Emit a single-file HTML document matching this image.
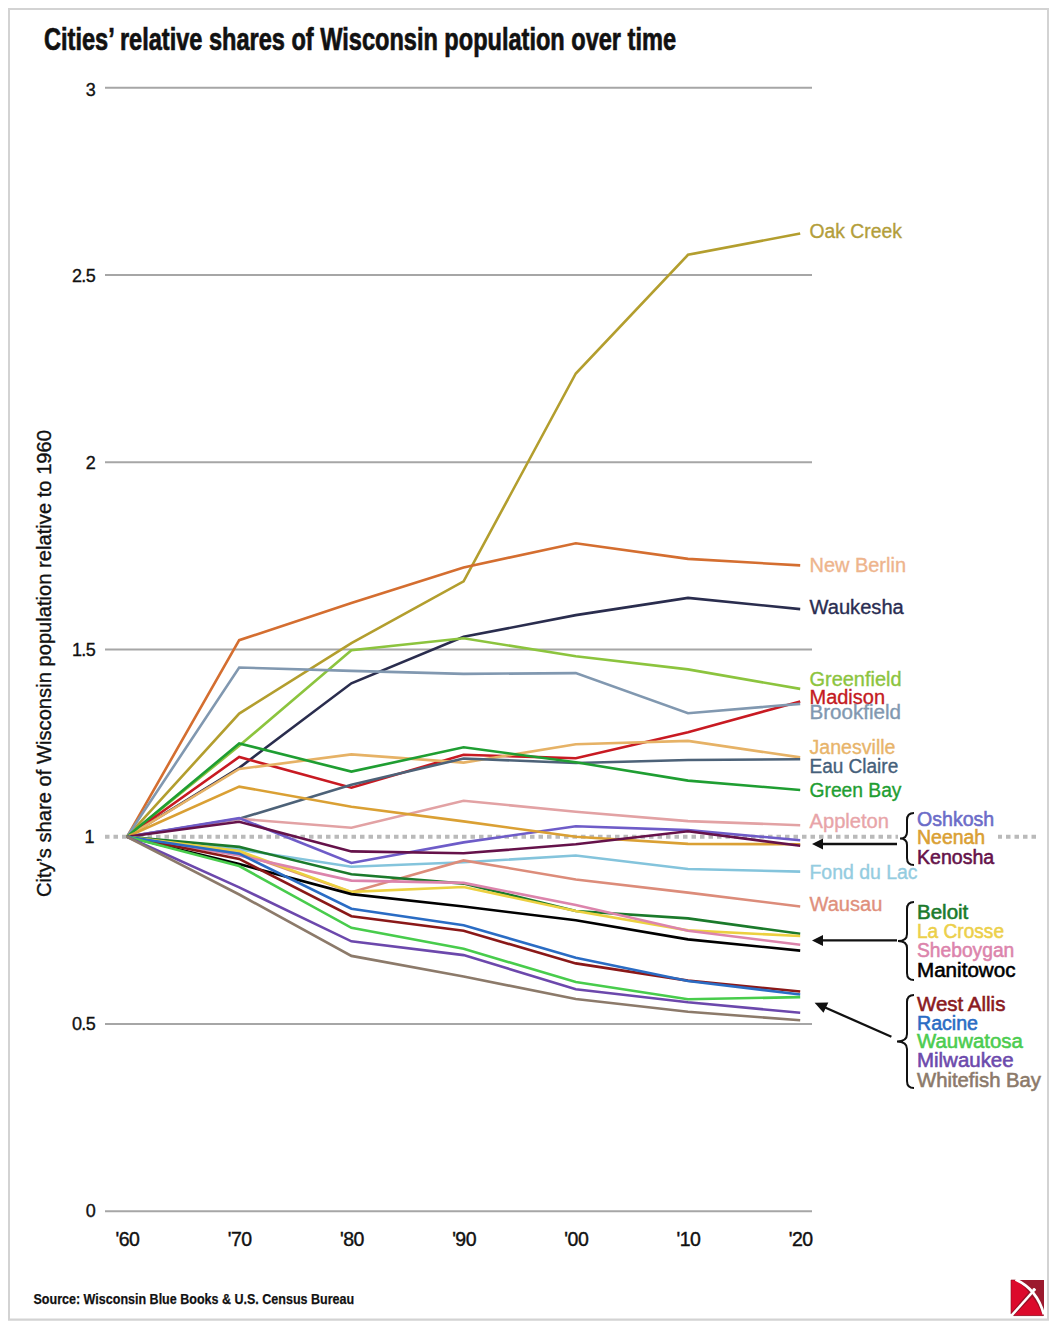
<!DOCTYPE html>
<html><head><meta charset="utf-8">
<style>
html,body{margin:0;padding:0;background:#fff;}
body{width:1056px;height:1328px;position:relative;overflow:hidden;}
svg{position:absolute;left:0;top:0;}
</style></head><body>
<svg width="1056" height="1328" viewBox="0 0 1056 1328" font-family="Liberation Sans, sans-serif">
<rect x="0" y="0" width="1056" height="1328" fill="#fff"/>
<rect x="9" y="9" width="1039" height="1310.5" fill="none" stroke="#d3d3d3" stroke-width="2"/>
<line x1="8" y1="1320" x2="1049" y2="1320" stroke="#d3d3d3" stroke-width="1"/>
<text x="44" y="49.5" font-family="Liberation Sans" font-weight="bold" font-size="30.5" fill="#111" stroke="#111" stroke-width="0.7" textLength="632" lengthAdjust="spacingAndGlyphs">Cities’ relative shares of Wisconsin population over time</text>
<line x1="105" y1="87.8" x2="812" y2="87.8" stroke="#a6a6a6" stroke-width="2"/>
<text x="95.2" y="95.6" font-size="18" fill="#111" stroke="#111" stroke-width="0.35" text-anchor="end" letter-spacing="-0.6">3</text>
<line x1="105" y1="275.0" x2="812" y2="275.0" stroke="#a6a6a6" stroke-width="2"/>
<text x="95.2" y="282.4" font-size="18" fill="#111" stroke="#111" stroke-width="0.35" text-anchor="end" letter-spacing="-0.6">2.5</text>
<line x1="105" y1="462.3" x2="812" y2="462.3" stroke="#a6a6a6" stroke-width="2"/>
<text x="95.2" y="469.3" font-size="18" fill="#111" stroke="#111" stroke-width="0.35" text-anchor="end" letter-spacing="-0.6">2</text>
<line x1="105" y1="649.5" x2="812" y2="649.5" stroke="#a6a6a6" stroke-width="2"/>
<text x="95.2" y="656.1" font-size="18" fill="#111" stroke="#111" stroke-width="0.35" text-anchor="end" letter-spacing="-0.6">1.5</text>
<line x1="105" y1="1024.0" x2="812" y2="1024.0" stroke="#a6a6a6" stroke-width="2"/>
<text x="95.2" y="1029.8" font-size="18" fill="#111" stroke="#111" stroke-width="0.35" text-anchor="end" letter-spacing="-0.6">0.5</text>
<line x1="105" y1="1211.3" x2="812" y2="1211.3" stroke="#a6a6a6" stroke-width="2"/>
<text x="95.2" y="1216.6" font-size="18" fill="#111" stroke="#111" stroke-width="0.35" text-anchor="end" letter-spacing="-0.6">0</text>
<text x="94.6" y="842.9" font-size="18" fill="#111" stroke="#111" stroke-width="0.35" text-anchor="end">1</text>
<line x1="105" y1="836.8" x2="1040" y2="836.8" stroke="#bababa" stroke-width="4" stroke-dasharray="4.5 4"/>
<text x="127.5" y="1245.8" font-size="19.5" fill="#111" stroke="#111" stroke-width="0.4" text-anchor="middle" letter-spacing="-0.5">'60</text>
<text x="239.7" y="1245.8" font-size="19.5" fill="#111" stroke="#111" stroke-width="0.4" text-anchor="middle" letter-spacing="-0.5">'70</text>
<text x="351.9" y="1245.8" font-size="19.5" fill="#111" stroke="#111" stroke-width="0.4" text-anchor="middle" letter-spacing="-0.5">'80</text>
<text x="464.1" y="1245.8" font-size="19.5" fill="#111" stroke="#111" stroke-width="0.4" text-anchor="middle" letter-spacing="-0.5">'90</text>
<text x="576.3" y="1245.8" font-size="19.5" fill="#111" stroke="#111" stroke-width="0.4" text-anchor="middle" letter-spacing="-0.5">'00</text>
<text x="688.5" y="1245.8" font-size="19.5" fill="#111" stroke="#111" stroke-width="0.4" text-anchor="middle" letter-spacing="-0.5">'10</text>
<text x="800.7" y="1245.8" font-size="19.5" fill="#111" stroke="#111" stroke-width="0.4" text-anchor="middle" letter-spacing="-0.5">'20</text>
<text transform="translate(51.2,897) rotate(-90)" x="0" y="0" font-size="20" fill="#111" stroke="#111" stroke-width="0.35" textLength="467" lengthAdjust="spacingAndGlyphs">City’s share of Wisconsin population relative to 1960</text>
<text x="33.5" y="1303.5" font-weight="bold" font-size="15.5" fill="#111" stroke="#111" stroke-width="0.25" textLength="320.7" lengthAdjust="spacingAndGlyphs">Source: Wisconsin Blue Books &amp; U.S. Census Bureau</text>
<rect x="898" y="808" width="100" height="62" fill="#fff"/>
<polyline points="127.0,836.8 239.2,713.6 351.4,643.2 463.6,581.4 575.8,373.5 688.0,254.8 800.2,233.5" fill="none" stroke="#b39e2e" stroke-width="2.6" stroke-linejoin="miter" stroke-linecap="butt"/>
<polyline points="127.0,836.8 239.2,640.2 351.4,603.1 463.6,567.5 575.8,543.2 688.0,558.9 800.2,565.4" fill="none" stroke="#d46e30" stroke-width="2.6" stroke-linejoin="miter" stroke-linecap="butt"/>
<polyline points="127.0,836.8 239.2,767.9 351.4,683.3 463.6,636.8 575.8,615.1 688.0,597.9 800.2,609.1" fill="none" stroke="#2a2d4e" stroke-width="2.6" stroke-linejoin="miter" stroke-linecap="butt"/>
<polyline points="127.0,836.8 239.2,745.8 351.4,650.3 463.6,638.3 575.8,656.3 688.0,669.4 800.2,688.9" fill="none" stroke="#8cc43e" stroke-width="2.6" stroke-linejoin="miter" stroke-linecap="butt"/>
<polyline points="127.0,836.8 239.2,757.0 351.4,787.7 463.6,754.8 575.8,758.2 688.0,732.3 800.2,701.4" fill="none" stroke="#c81a22" stroke-width="2.6" stroke-linejoin="miter" stroke-linecap="butt"/>
<polyline points="127.0,836.8 239.2,667.5 351.4,670.9 463.6,673.9 575.8,673.1 688.0,713.2 800.2,703.9" fill="none" stroke="#8198b0" stroke-width="2.6" stroke-linejoin="miter" stroke-linecap="butt"/>
<polyline points="127.0,836.8 239.2,769.0 351.4,754.4 463.6,762.6 575.8,744.3 688.0,740.9 800.2,757.4" fill="none" stroke="#e6b266" stroke-width="2.6" stroke-linejoin="miter" stroke-linecap="butt"/>
<polyline points="127.0,836.8 239.2,818.8 351.4,784.7 463.6,758.5 575.8,763.0 688.0,760.0 800.2,759.3" fill="none" stroke="#4d6278" stroke-width="2.6" stroke-linejoin="miter" stroke-linecap="butt"/>
<polyline points="127.0,836.8 239.2,743.5 351.4,771.6 463.6,747.3 575.8,762.3 688.0,780.6 800.2,790.0" fill="none" stroke="#1f9e32" stroke-width="2.6" stroke-linejoin="miter" stroke-linecap="butt"/>
<polyline points="127.0,836.8 239.2,818.8 351.4,827.8 463.6,800.8 575.8,811.7 688.0,821.1 800.2,825.2" fill="none" stroke="#e2a2a4" stroke-width="2.6" stroke-linejoin="miter" stroke-linecap="butt"/>
<polyline points="127.0,836.8 239.2,818.1 351.4,863.0 463.6,842.4 575.8,826.3 688.0,830.1 800.2,840.2" fill="none" stroke="#6e5cc8" stroke-width="2.6" stroke-linejoin="miter" stroke-linecap="butt"/>
<polyline points="127.0,836.8 239.2,786.6 351.4,806.8 463.6,821.4 575.8,836.8 688.0,843.9 800.2,844.3" fill="none" stroke="#daa034" stroke-width="2.6" stroke-linejoin="miter" stroke-linecap="butt"/>
<polyline points="127.0,836.8 239.2,821.8 351.4,851.4 463.6,853.3 575.8,844.3 688.0,831.2 800.2,845.8" fill="none" stroke="#65124a" stroke-width="2.6" stroke-linejoin="miter" stroke-linecap="butt"/>
<polyline points="127.0,836.8 239.2,849.5 351.4,866.8 463.6,862.3 575.8,855.5 688.0,869.0 800.2,871.6" fill="none" stroke="#84c4dc" stroke-width="2.6" stroke-linejoin="miter" stroke-linecap="butt"/>
<polyline points="127.0,836.8 239.2,852.5 351.4,892.2 463.6,860.4 575.8,879.5 688.0,892.6 800.2,906.5" fill="none" stroke="#dc8c7a" stroke-width="2.6" stroke-linejoin="miter" stroke-linecap="butt"/>
<polyline points="127.0,836.8 239.2,846.9 351.4,874.2 463.6,883.6 575.8,911.0 688.0,918.4 800.2,933.8" fill="none" stroke="#1b7a2b" stroke-width="2.6" stroke-linejoin="miter" stroke-linecap="butt"/>
<polyline points="127.0,836.8 239.2,851.0 351.4,891.9 463.6,887.0 575.8,911.0 688.0,930.4 800.2,936.0" fill="none" stroke="#ecd040" stroke-width="2.6" stroke-linejoin="miter" stroke-linecap="butt"/>
<polyline points="127.0,836.8 239.2,855.5 351.4,880.6 463.6,882.9 575.8,905.0 688.0,930.8 800.2,944.7" fill="none" stroke="#dc84ac" stroke-width="2.6" stroke-linejoin="miter" stroke-linecap="butt"/>
<polyline points="127.0,836.8 239.2,864.1 351.4,894.1 463.6,906.5 575.8,920.3 688.0,939.4 800.2,950.6" fill="none" stroke="#000000" stroke-width="2.6" stroke-linejoin="miter" stroke-linecap="butt"/>
<polyline points="127.0,836.8 239.2,858.9 351.4,916.2 463.6,930.8 575.8,963.4 688.0,980.6 800.2,991.5" fill="none" stroke="#8a1818" stroke-width="2.6" stroke-linejoin="miter" stroke-linecap="butt"/>
<polyline points="127.0,836.8 239.2,853.7 351.4,908.7 463.6,925.2 575.8,957.8 688.0,981.0 800.2,994.5" fill="none" stroke="#2a6cc4" stroke-width="2.6" stroke-linejoin="miter" stroke-linecap="butt"/>
<polyline points="127.0,836.8 239.2,866.0 351.4,927.8 463.6,948.8 575.8,982.1 688.0,999.3 800.2,997.1" fill="none" stroke="#48cc4c" stroke-width="2.6" stroke-linejoin="miter" stroke-linecap="butt"/>
<polyline points="127.0,836.8 239.2,887.4 351.4,941.3 463.6,955.1 575.8,989.2 688.0,1002.3 800.2,1012.8" fill="none" stroke="#6c48ac" stroke-width="2.6" stroke-linejoin="miter" stroke-linecap="butt"/>
<polyline points="127.0,836.8 239.2,894.5 351.4,955.9 463.6,976.5 575.8,999.0 688.0,1011.7 800.2,1020.3" fill="none" stroke="#8c7a6a" stroke-width="2.6" stroke-linejoin="miter" stroke-linecap="butt"/>
<text x="809.5" y="237.8" font-size="19.5" fill="#b39e3a" stroke="#b39e3a" stroke-width="0.35" textLength="92.4" lengthAdjust="spacingAndGlyphs">Oak Creek</text>
<text x="809.5" y="571.7" font-size="19.5" fill="#eeb48c" stroke="#eeb48c" stroke-width="0.35" textLength="96.5" lengthAdjust="spacingAndGlyphs">New Berlin</text>
<text x="809.5" y="613.8" font-size="19.5" fill="#2a2d52" stroke="#2a2d52" stroke-width="0.35" textLength="94.3" lengthAdjust="spacingAndGlyphs">Waukesha</text>
<text x="809.5" y="686.4" font-size="19.5" fill="#8cc43e" stroke="#8cc43e" stroke-width="0.35" textLength="92" lengthAdjust="spacingAndGlyphs">Greenfield</text>
<text x="809.5" y="703.5" font-size="19.5" fill="#c41a22" stroke="#c41a22" stroke-width="0.35" textLength="75.5" lengthAdjust="spacingAndGlyphs">Madison</text>
<text x="809.5" y="718.5" font-size="19.5" fill="#8198b0" stroke="#8198b0" stroke-width="0.35" textLength="91.5" lengthAdjust="spacingAndGlyphs">Brookfield</text>
<text x="809.5" y="754.4" font-size="19.5" fill="#e8b46a" stroke="#e8b46a" stroke-width="0.35" textLength="86" lengthAdjust="spacingAndGlyphs">Janesville</text>
<text x="809.5" y="772.6" font-size="19.5" fill="#45607a" stroke="#45607a" stroke-width="0.35" textLength="88.7" lengthAdjust="spacingAndGlyphs">Eau Claire</text>
<text x="809.5" y="796.5" font-size="19.5" fill="#1f9e32" stroke="#1f9e32" stroke-width="0.35" textLength="92" lengthAdjust="spacingAndGlyphs">Green Bay</text>
<text x="809.5" y="827.7" font-size="19.5" fill="#e8a4a8" stroke="#e8a4a8" stroke-width="0.35" textLength="79.5" lengthAdjust="spacingAndGlyphs">Appleton</text>
<text x="809.5" y="879.4" font-size="19.5" fill="#94cce0" stroke="#94cce0" stroke-width="0.35" textLength="108" lengthAdjust="spacingAndGlyphs">Fond du Lac</text>
<text x="809.5" y="911.3" font-size="19.5" fill="#e0907c" stroke="#e0907c" stroke-width="0.35" textLength="72.8" lengthAdjust="spacingAndGlyphs">Wausau</text>
<text x="917" y="826.1" font-size="19.5" fill="#6c6cc8" stroke="#6c6cc8" stroke-width="0.55" textLength="77.2" lengthAdjust="spacingAndGlyphs">Oshkosh</text>
<text x="917" y="844.2" font-size="19.5" fill="#daa034" stroke="#daa034" stroke-width="0.55" textLength="68.2" lengthAdjust="spacingAndGlyphs">Neenah</text>
<text x="917" y="864.1" font-size="19.5" fill="#65124a" stroke="#65124a" stroke-width="0.55" textLength="77.2" lengthAdjust="spacingAndGlyphs">Kenosha</text>
<text x="917" y="919.2" font-size="19.5" fill="#1b7a2b" stroke="#1b7a2b" stroke-width="0.55" textLength="51.3" lengthAdjust="spacingAndGlyphs">Beloit</text>
<text x="917" y="937.9" font-size="19.5" fill="#ecd04a" stroke="#ecd04a" stroke-width="0.55" textLength="87" lengthAdjust="spacingAndGlyphs">La Crosse</text>
<text x="917" y="957.3" font-size="19.5" fill="#dc84ac" stroke="#dc84ac" stroke-width="0.55" textLength="97.3" lengthAdjust="spacingAndGlyphs">Sheboygan</text>
<text x="917" y="977.4" font-size="19.5" fill="#000000" stroke="#000000" stroke-width="0.55" textLength="98.5" lengthAdjust="spacingAndGlyphs">Manitowoc</text>
<text x="917" y="1010.6" font-size="19.5" fill="#8a1a1e" stroke="#8a1a1e" stroke-width="0.55" textLength="88.4" lengthAdjust="spacingAndGlyphs">West Allis</text>
<text x="917" y="1029.5" font-size="19.5" fill="#2a6cc4" stroke="#2a6cc4" stroke-width="0.55" textLength="61" lengthAdjust="spacingAndGlyphs">Racine</text>
<text x="917" y="1048.2" font-size="19.5" fill="#4ccc50" stroke="#4ccc50" stroke-width="0.55" textLength="105.8" lengthAdjust="spacingAndGlyphs">Wauwatosa</text>
<text x="917" y="1067.1" font-size="19.5" fill="#6c4aac" stroke="#6c4aac" stroke-width="0.55" textLength="96.6" lengthAdjust="spacingAndGlyphs">Milwaukee</text>
<text x="917" y="1087.0" font-size="19.5" fill="#8c7a6a" stroke="#8c7a6a" stroke-width="0.55" textLength="124" lengthAdjust="spacingAndGlyphs">Whitefish Bay</text>

<g fill="none" stroke="#111" stroke-width="2.3">
<path d="M897,844 L820,844"/>
<path d="M897,940.4 L820,940.4"/>
<path d="M891.4,1036.8 L824,1007"/>
</g>
<g fill="#111">
<path d="M812,844 L823,838.5 L823,849.5 Z"/>
<path d="M812,940.4 L823,934.9 L823,945.9 Z"/>
<path d="M814.6,1002.7 L828.3,1002.4 L823.5,1012.8 Z"/>
</g>
<g fill="none" stroke="#111" stroke-width="2">
<path d="M914,813 Q907,813 907,820 L907,832 Q907,838.5 900,838.5 Q907,838.5 907,845 L907,858 Q907,865 914,865"/>
<path d="M914,902 Q907,902 907,909 L907,934 Q907,941 898,941 Q907,941 907,948 L907,973 Q907,980 914,980"/>
<path d="M914,995 Q907,995 907,1002 L907,1034 Q907,1041.5 897,1041.5 Q907,1041.5 907,1049 L907,1081 Q907,1088 914,1088"/>
</g>
<g>
<rect x="1011" y="1280" width="33" height="35.6" fill="#9c1a2e"/>
<path d="M1011,1280 L1016,1280 Q1024,1285 1029,1292.3 L1011,1313.5 Z" fill="#dc0a2c" stroke="#8a0a1e" stroke-width="0.6"/>
<path d="M1013.6,1315.6 L1032.4,1296.2 Q1038,1303 1043.2,1315.6 Z" fill="#dc0a2c" stroke="#8a0a1e" stroke-width="0.6"/>
<path d="M1015.5,1279.5 Q1037,1289 1043.9,1314.5" fill="none" stroke="#fff" stroke-width="2.7"/>
<path d="M1010.8,1316.4 L1035.2,1289" fill="none" stroke="#fff" stroke-width="2.5"/>
<circle cx="1034" cy="1289.5" r="1.6" fill="#fff"/>
</g>
</svg>
</body></html>
